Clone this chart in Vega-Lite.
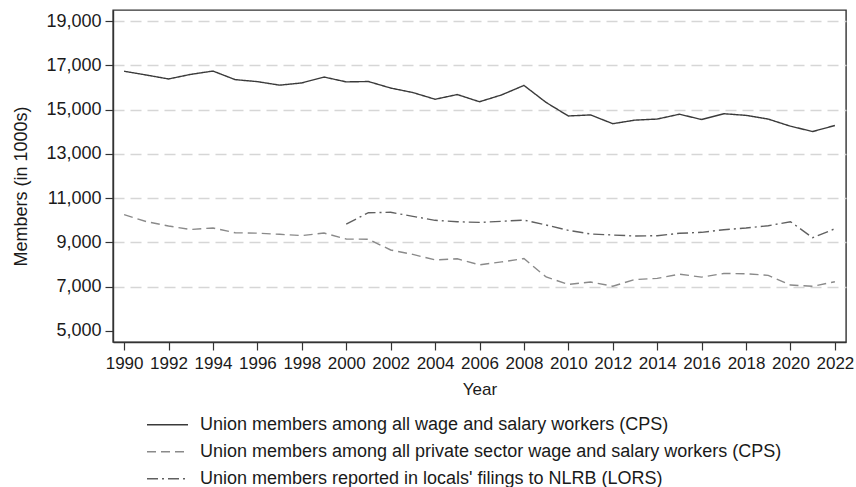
{
  "$schema": "https://vega.github.io/schema/vega-lite/v6.json",
  "autosize": {"type": "none"},
  "width": 733,
  "height": 332,
  "padding": {"left": 113, "top": 10, "right": 10, "bottom": 145},
  "background": "white",
  "config": {
    "font": "Liberation Sans",
    "view": {"stroke": "#333333", "strokeWidth": 1.4},
    "axis": {
      "labelFont": "Liberation Sans",
      "titleFont": "Liberation Sans",
      "labelFontSize": 17,
      "titleFontSize": 17,
      "titleFontWeight": "normal",
      "labelColor": "#1a1a1a",
      "titleColor": "#1a1a1a",
      "domainColor": "#333333",
      "tickColor": "#333333",
      "tickSize": 8,
      "tickWidth": 1.2,
      "domainWidth": 1.4
    },
    "legend": {
      "labelFont": "Liberation Sans",
      "labelFontSize": 18,
      "labelColor": "#1a1a1a",
      "labelLimit": 0
    }
  },
  "data": {
    "values": [
      {"year": 1990, "series": "Union members among all wage and salary workers (CPS)", "value": 16740},
      {"year": 1991, "series": "Union members among all wage and salary workers (CPS)", "value": 16568},
      {"year": 1992, "series": "Union members among all wage and salary workers (CPS)", "value": 16390},
      {"year": 1993, "series": "Union members among all wage and salary workers (CPS)", "value": 16598},
      {"year": 1994, "series": "Union members among all wage and salary workers (CPS)", "value": 16748},
      {"year": 1995, "series": "Union members among all wage and salary workers (CPS)", "value": 16360},
      {"year": 1996, "series": "Union members among all wage and salary workers (CPS)", "value": 16269},
      {"year": 1997, "series": "Union members among all wage and salary workers (CPS)", "value": 16110},
      {"year": 1998, "series": "Union members among all wage and salary workers (CPS)", "value": 16211},
      {"year": 1999, "series": "Union members among all wage and salary workers (CPS)", "value": 16477},
      {"year": 2000, "series": "Union members among all wage and salary workers (CPS)", "value": 16258},
      {"year": 2001, "series": "Union members among all wage and salary workers (CPS)", "value": 16275},
      {"year": 2002, "series": "Union members among all wage and salary workers (CPS)", "value": 15979},
      {"year": 2003, "series": "Union members among all wage and salary workers (CPS)", "value": 15776},
      {"year": 2004, "series": "Union members among all wage and salary workers (CPS)", "value": 15472},
      {"year": 2005, "series": "Union members among all wage and salary workers (CPS)", "value": 15685},
      {"year": 2006, "series": "Union members among all wage and salary workers (CPS)", "value": 15359},
      {"year": 2007, "series": "Union members among all wage and salary workers (CPS)", "value": 15670},
      {"year": 2008, "series": "Union members among all wage and salary workers (CPS)", "value": 16098},
      {"year": 2009, "series": "Union members among all wage and salary workers (CPS)", "value": 15327},
      {"year": 2010, "series": "Union members among all wage and salary workers (CPS)", "value": 14715},
      {"year": 2011, "series": "Union members among all wage and salary workers (CPS)", "value": 14764},
      {"year": 2012, "series": "Union members among all wage and salary workers (CPS)", "value": 14366},
      {"year": 2013, "series": "Union members among all wage and salary workers (CPS)", "value": 14528},
      {"year": 2014, "series": "Union members among all wage and salary workers (CPS)", "value": 14576},
      {"year": 2015, "series": "Union members among all wage and salary workers (CPS)", "value": 14795},
      {"year": 2016, "series": "Union members among all wage and salary workers (CPS)", "value": 14555},
      {"year": 2017, "series": "Union members among all wage and salary workers (CPS)", "value": 14817},
      {"year": 2018, "series": "Union members among all wage and salary workers (CPS)", "value": 14744},
      {"year": 2019, "series": "Union members among all wage and salary workers (CPS)", "value": 14574},
      {"year": 2020, "series": "Union members among all wage and salary workers (CPS)", "value": 14253},
      {"year": 2021, "series": "Union members among all wage and salary workers (CPS)", "value": 14012},
      {"year": 2022, "series": "Union members among all wage and salary workers (CPS)", "value": 14285},
      {"year": 1990, "series": "Union members among all private sector wage and salary workers (CPS)", "value": 10255},
      {"year": 1991, "series": "Union members among all private sector wage and salary workers (CPS)", "value": 9936},
      {"year": 1992, "series": "Union members among all private sector wage and salary workers (CPS)", "value": 9737},
      {"year": 1993, "series": "Union members among all private sector wage and salary workers (CPS)", "value": 9580},
      {"year": 1994, "series": "Union members among all private sector wage and salary workers (CPS)", "value": 9649},
      {"year": 1995, "series": "Union members among all private sector wage and salary workers (CPS)", "value": 9432},
      {"year": 1996, "series": "Union members among all private sector wage and salary workers (CPS)", "value": 9415},
      {"year": 1997, "series": "Union members among all private sector wage and salary workers (CPS)", "value": 9363},
      {"year": 1998, "series": "Union members among all private sector wage and salary workers (CPS)", "value": 9306},
      {"year": 1999, "series": "Union members among all private sector wage and salary workers (CPS)", "value": 9419},
      {"year": 2000, "series": "Union members among all private sector wage and salary workers (CPS)", "value": 9148},
      {"year": 2001, "series": "Union members among all private sector wage and salary workers (CPS)", "value": 9141},
      {"year": 2002, "series": "Union members among all private sector wage and salary workers (CPS)", "value": 8652},
      {"year": 2003, "series": "Union members among all private sector wage and salary workers (CPS)", "value": 8452},
      {"year": 2004, "series": "Union members among all private sector wage and salary workers (CPS)", "value": 8205},
      {"year": 2005, "series": "Union members among all private sector wage and salary workers (CPS)", "value": 8255},
      {"year": 2006, "series": "Union members among all private sector wage and salary workers (CPS)", "value": 7981},
      {"year": 2007, "series": "Union members among all private sector wage and salary workers (CPS)", "value": 8114},
      {"year": 2008, "series": "Union members among all private sector wage and salary workers (CPS)", "value": 8265},
      {"year": 2009, "series": "Union members among all private sector wage and salary workers (CPS)", "value": 7431},
      {"year": 2010, "series": "Union members among all private sector wage and salary workers (CPS)", "value": 7092},
      {"year": 2011, "series": "Union members among all private sector wage and salary workers (CPS)", "value": 7203},
      {"year": 2012, "series": "Union members among all private sector wage and salary workers (CPS)", "value": 7014},
      {"year": 2013, "series": "Union members among all private sector wage and salary workers (CPS)", "value": 7317},
      {"year": 2014, "series": "Union members among all private sector wage and salary workers (CPS)", "value": 7367},
      {"year": 2015, "series": "Union members among all private sector wage and salary workers (CPS)", "value": 7560},
      {"year": 2016, "series": "Union members among all private sector wage and salary workers (CPS)", "value": 7425},
      {"year": 2017, "series": "Union members among all private sector wage and salary workers (CPS)", "value": 7589},
      {"year": 2018, "series": "Union members among all private sector wage and salary workers (CPS)", "value": 7578},
      {"year": 2019, "series": "Union members among all private sector wage and salary workers (CPS)", "value": 7505},
      {"year": 2020, "series": "Union members among all private sector wage and salary workers (CPS)", "value": 7066},
      {"year": 2021, "series": "Union members among all private sector wage and salary workers (CPS)", "value": 7010},
      {"year": 2022, "series": "Union members among all private sector wage and salary workers (CPS)", "value": 7217},
      {"year": 2000, "series": "Union members reported in locals' filings to NLRB (LORS)", "value": 9828},
      {"year": 2001, "series": "Union members reported in locals' filings to NLRB (LORS)", "value": 10339},
      {"year": 2002, "series": "Union members reported in locals' filings to NLRB (LORS)", "value": 10357},
      {"year": 2003, "series": "Union members reported in locals' filings to NLRB (LORS)", "value": 10176},
      {"year": 2004, "series": "Union members reported in locals' filings to NLRB (LORS)", "value": 9995},
      {"year": 2005, "series": "Union members reported in locals' filings to NLRB (LORS)", "value": 9932},
      {"year": 2006, "series": "Union members reported in locals' filings to NLRB (LORS)", "value": 9900},
      {"year": 2007, "series": "Union members reported in locals' filings to NLRB (LORS)", "value": 9950},
      {"year": 2008, "series": "Union members reported in locals' filings to NLRB (LORS)", "value": 10005},
      {"year": 2009, "series": "Union members reported in locals' filings to NLRB (LORS)", "value": 9783},
      {"year": 2010, "series": "Union members reported in locals' filings to NLRB (LORS)", "value": 9543},
      {"year": 2011, "series": "Union members reported in locals' filings to NLRB (LORS)", "value": 9376},
      {"year": 2012, "series": "Union members reported in locals' filings to NLRB (LORS)", "value": 9330},
      {"year": 2013, "series": "Union members reported in locals' filings to NLRB (LORS)", "value": 9285},
      {"year": 2014, "series": "Union members reported in locals' filings to NLRB (LORS)", "value": 9300},
      {"year": 2015, "series": "Union members reported in locals' filings to NLRB (LORS)", "value": 9407},
      {"year": 2016, "series": "Union members reported in locals' filings to NLRB (LORS)", "value": 9452},
      {"year": 2017, "series": "Union members reported in locals' filings to NLRB (LORS)", "value": 9570},
      {"year": 2018, "series": "Union members reported in locals' filings to NLRB (LORS)", "value": 9647},
      {"year": 2019, "series": "Union members reported in locals' filings to NLRB (LORS)", "value": 9751},
      {"year": 2020, "series": "Union members reported in locals' filings to NLRB (LORS)", "value": 9932},
      {"year": 2021, "series": "Union members reported in locals' filings to NLRB (LORS)", "value": 9208},
      {"year": 2022, "series": "Union members reported in locals' filings to NLRB (LORS)", "value": 9615}
    ]
  },
  "mark": {"type": "line", "strokeWidth": 1.4},
  "encoding": {
    "x": {
      "field": "year",
      "type": "quantitative",
      "scale": {"domain": [1989.5, 2022.5], "nice": false, "zero": false},
      "axis": {
        "title": "Year",
        "values": [1990, 1992, 1994, 1996, 1998, 2000, 2002, 2004, 2006, 2008, 2010, 2012, 2014, 2016, 2018, 2020, 2022],
        "format": "d",
        "grid": false,
        "labelPadding": 5,
        "labelFlush": false,
        "labelOverlap": false,
        "titleY": 52,
        "titleBaseline": "alphabetic"
      }
    },
    "y": {
      "field": "value",
      "type": "quantitative",
      "scale": {"domain": [4490, 19510], "nice": false, "zero": false},
      "axis": {
        "title": "Members (in 1000s)",
        "values": [5000, 7000, 9000, 11000, 13000, 15000, 17000, 19000],
        "format": ",.0f",
        "grid": true,
        "gridColor": "#d6d6d6",
        "gridDash": [11, 6],
        "gridWidth": 1.3,
        "gridOpacity": {"condition": {"test": "datum.value <= 5000", "value": 0}, "value": 1},
        "labelFontSize": 18,
        "titleFontSize": 18,
        "labelPadding": 4,
        "labelFlush": false,
        "labelOverlap": false,
        "titleX": -92,
        "titleY": 176,
        "titleBaseline": "middle",
        "titleAngle": 270
      }
    },
    "color": {
      "field": "series",
      "type": "nominal",
      "scale": {
        "domain": ["Union members among all wage and salary workers (CPS)", "Union members among all private sector wage and salary workers (CPS)", "Union members reported in locals' filings to NLRB (LORS)"],
        "range": ["#3a3a3a", "#8a8a8a", "#606060"]
      },
      "legend": {
        "title": null,
        "orient": "none",
        "legendX": 33,
        "legendY": 401.5,
        "symbolType": "stroke",
        "symbolSize": 1681,
        "symbolStrokeWidth": 1.4,
        "labelOffset": 11,
        "clipHeight": 26.5,
        "rowPadding": 0
      }
    },
    "strokeDash": {
      "field": "series",
      "type": "nominal",
      "scale": {
        "domain": ["Union members among all wage and salary workers (CPS)", "Union members among all private sector wage and salary workers (CPS)", "Union members reported in locals' filings to NLRB (LORS)"],
        "range": [[1, 0], [9, 5], [11, 4, 2, 4]]
      },
      "legend": {
        "title": null,
        "orient": "none",
        "legendX": 33,
        "legendY": 401.5,
        "symbolType": "stroke",
        "symbolSize": 1681,
        "symbolStrokeWidth": 1.4,
        "labelOffset": 11,
        "clipHeight": 26.5,
        "rowPadding": 0
      }
    }
  }
}
